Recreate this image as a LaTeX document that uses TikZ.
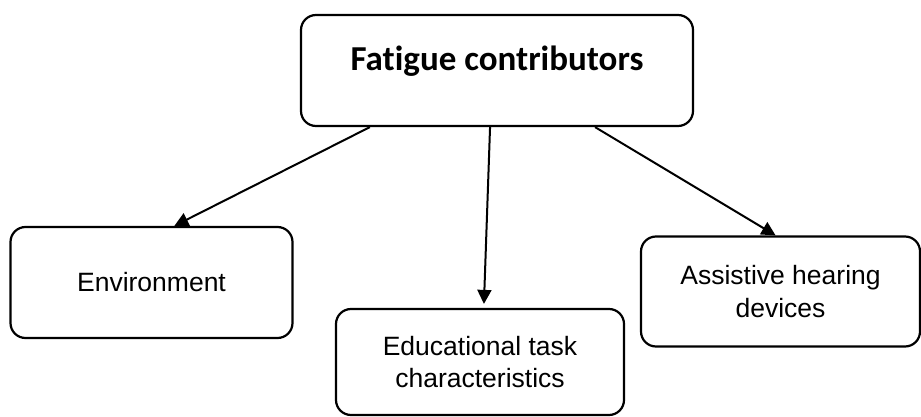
\documentclass[tikz,border=0pt]{standalone}
\usepackage{fontspec}
\setmainfont{Liberation Sans}
\newfontfamily\calfont[Ligatures={NoCommon}]{Carlito}
\usetikzlibrary{arrows.meta}

\begin{document}
\begin{tikzpicture}[x=1pt,y=1pt]
        \tikzstyle{every node}+=[inner sep=0pt]
        \tikzstyle{box}=[draw=black, line width=2.2pt, rounded corners=15pt, align=center,
                font=\fontsize{26.5}{32.5}\selectfont]
        \tikzstyle{arr}=[line width=2pt, -{Triangle[length=14pt,width=14pt]}]
        \useasboundingbox (0,0) rectangle (921,-417);
        % top box
        \node [box, minimum width=392, minimum height=111, text depth=25pt,
                font=\calfont\bfseries\fontsize{35}{40}\selectfont] (top) at (497,-70.5) {Fatigue contributors};
        % three branches
        \node [box, minimum width=282, minimum height=111] (env) at (151.5,-282.5) {Environment};
        \node [box, minimum width=288, minimum height=106] (task) at (480,-362) {Educational task\\characteristics};
        \node [box, minimum width=279, minimum height=110] (dev) at (780.5,-291.5) {Assistive hearing\\devices};
        \draw [arr] (top.204.6) -- (env.68.8);
        \draw [arr, shorten >=4pt] (top.263.8) -- (task.86.8);
        \draw [arr] (top.330.2) -- (dev.95.7);
\end{tikzpicture}
\end{document}
